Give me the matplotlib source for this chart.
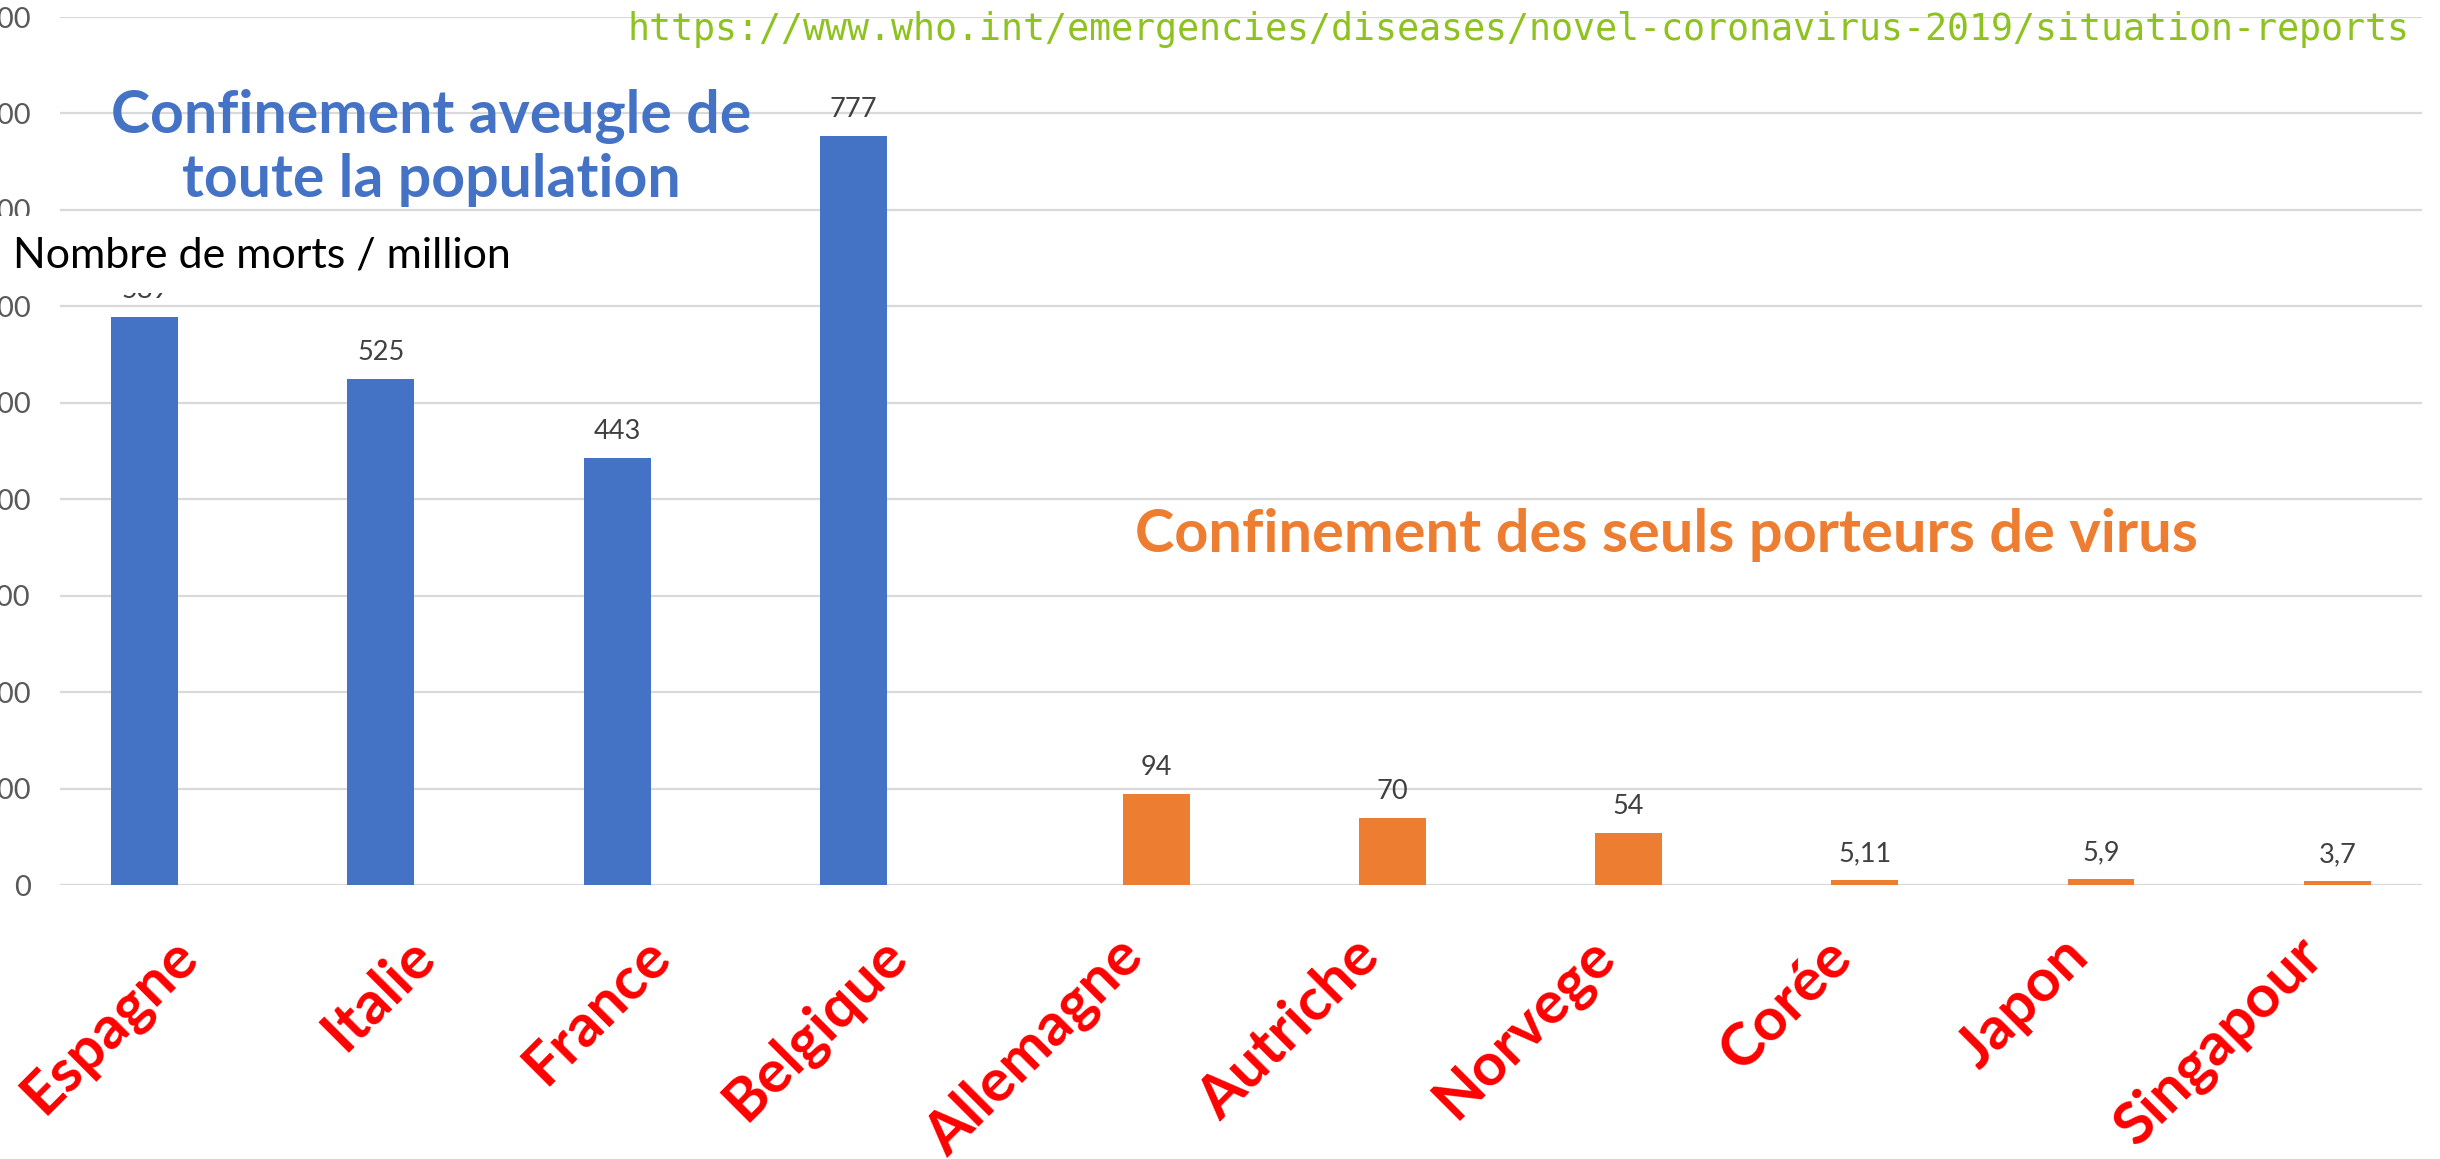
import matplotlib

matplotlib.use("Agg")
import matplotlib.pyplot as plt
import numpy as np
from matplotlib.patches import Rectangle

countries = ["Espagne", "Italie", "France", "Belgique", "Allemagne",
             "Autriche", "Norvege", "Corée", "Japon", "Singapour"]
deaths = [589, 525, 443, 777, 94, 70, 54, 5.11, 5.9, 3.7]
# True = confinement de toute la population, False = seuls porteurs
full_lockdown = [True, True, True, True, False, False, False, False, False, False]

y_ticks = list(range(0, 1000, 100))
source_url = "https://www.who.int/emergencies/diseases/novel-coronavirus-2019/situation-reports"

BLUE = "#4472C4"
ORANGE = "#ED7D31"
GRID = "#D9D9D9"

plt.rcParams["font.family"] = ["Lato", "DejaVu Sans"]

fig = plt.figure(figsize=(24.4, 11.59), dpi=100)
ax = fig.add_axes([0.0246, 0.2364, 0.968, 0.7489])

x = np.arange(len(countries))
width = 0.283
lock = np.array(full_lockdown)
vals = np.array(deaths)

# two series side by side in each category, the other one empty
blue_bars = ax.bar(x[lock] - width / 2, vals[lock], width, color=BLUE, zorder=2)
orange_bars = ax.bar(x[~lock] + width / 2, vals[~lock], width, color=ORANGE, zorder=2)


def fmt(v):
    return f"{v:g}".replace(".", ",")


for bars, v in ((blue_bars, vals[lock]), (orange_bars, vals[~lock])):
    ax.bar_label(bars, labels=[fmt(a) for a in v], padding=10,
                 fontsize=19.5, color="#404040", zorder=3)

ax.set_xlim(-0.5, len(countries) - 0.5)
ax.set_ylim(0, 900)
ax.set_yticks(y_ticks)
ax.set_yticklabels([str(t) for t in y_ticks])
ax.tick_params(axis="y", length=0, pad=21, labelsize=21, labelcolor="#595959")
ax.set_xticks([])
ax.grid(axis="y", color=GRID, linewidth=1.6, zorder=1.5)
for s in ax.spines.values():
    s.set_visible(False)

for i, name in enumerate(countries):
    ax.annotate(name, xy=(i, 0), xycoords="data", xytext=(8, -45),
                textcoords="offset points", rotation=45, ha="right", va="center",
                rotation_mode="anchor", fontsize=43, fontweight="bold",
                color="#FF0000", annotation_clip=False)

fig.text(0.1766, 0.830, "Confinement aveugle de\ntoute la population",
         ha="center", va="baseline", fontsize=42.5, fontweight="bold",
         color=BLUE, linespacing=1.2, zorder=1)
fig.text(0.6828, 0.5237, "Confinement des seuls porteurs de virus",
         ha="center", va="baseline", fontsize=42.8, fontweight="bold", color=ORANGE)

# white text box of the axis title, it hides the top of the 589 label
fig.patches.append(Rectangle((0, 0.747), 0.2234, 0.0666, transform=fig.transFigure,
                             facecolor="white", edgecolor="none", zorder=4))
fig.text(0.0053, 0.7696, "Nombre de morts / million", ha="left", va="baseline",
         fontsize=31, color="black", zorder=5)
fig.text(0.9873, 0.9655, source_url, ha="right", va="baseline",
         fontsize=26.4, color="#8DC21F", family="DejaVu Sans Mono")

fig.savefig("out.png", dpi=100)
